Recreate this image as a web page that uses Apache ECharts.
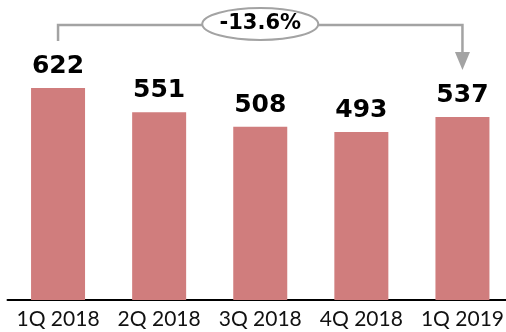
<!DOCTYPE html>
<html>
<head>
<meta charset="utf-8">
<script src="https://cdn.jsdelivr.net/npm/echarts@6/dist/echarts.min.js"></script>
<style>
  html, body { margin: 0; padding: 0; background: #fff; overflow: hidden; }
  #chart { width: 513px; height: 332px; }
</style>
</head>
<body>
<div id="chart"></div>
<script>
// Quarterly values
const categories = ['1Q 2018', '2Q 2018', '3Q 2018', '4Q 2018', '1Q 2019'];
const values = [622, 551, 508, 493, 537];
const changeLabel = '-13.6%';

const chart = echarts.init(document.getElementById('chart'), null, { renderer: 'canvas' });

chart.setOption({
  animation: false,
  grid: { left: 7.5, right: 0, top: 0, bottom: 32, containLabel: false },
  xAxis: {
    type: 'category',
    data: categories,
    axisLine: { lineStyle: { color: '#000', width: 2 } },
    axisTick: { show: false },
    axisLabel: { interval: 0, color: '#111', fontFamily: 'Lato', fontSize: 21, margin: 9 }
  },
  yAxis: {
    type: 'value', min: 0, max: 880,
    show: false, splitLine: { show: false }
  },
  series: [{
    type: 'bar',
    data: values,
    barWidth: 54,
    itemStyle: { color: '#d07d7d' },
    label: {
      show: true, position: 'top', distance: 9,
      color: '#000', fontFamily: 'DejaVu Sans', fontWeight: 'bold', fontSize: 25
    }
  }]
});

// Bracket from the first to the last quarter with the change in an ellipse
const first = chart.convertToPixel({ seriesIndex: 0 }, [0, values[0]]);
const last = chart.convertToPixel({ seriesIndex: 0 }, [values.length - 1, values[values.length - 1]]);
const lineY = 25;
const leftBottom = first[1] - 47;
const arrowTip = last[1] - 47;
const midX = (first[0] + last[0]) / 2;
const gray = '#a3a3a3';

chart.setOption({
  graphic: [
    {
      type: 'polyline',
      shape: { points: [[first[0], leftBottom], [first[0], lineY], [last[0], lineY], [last[0], arrowTip - 16]] },
      style: { stroke: gray, lineWidth: 2.5, fill: null }
    },
    {
      type: 'polygon',
      shape: { points: [[last[0] - 7.5, arrowTip - 18], [last[0] + 7.5, arrowTip - 18], [last[0], arrowTip]] },
      style: { fill: gray }
    },
    {
      type: 'ellipse',
      shape: { cx: midX, cy: lineY - 1, rx: 58, ry: 16 },
      style: { fill: '#fff', stroke: gray, lineWidth: 2 }
    },
    {
      type: 'text',
      x: midX, y: lineY - 1,
      style: {
        text: changeLabel, align: 'center', verticalAlign: 'middle',
        fill: '#000', font: 'bold 21px "DejaVu Sans"'
      }
    }
  ]
});
</script>
</body>
</html>
